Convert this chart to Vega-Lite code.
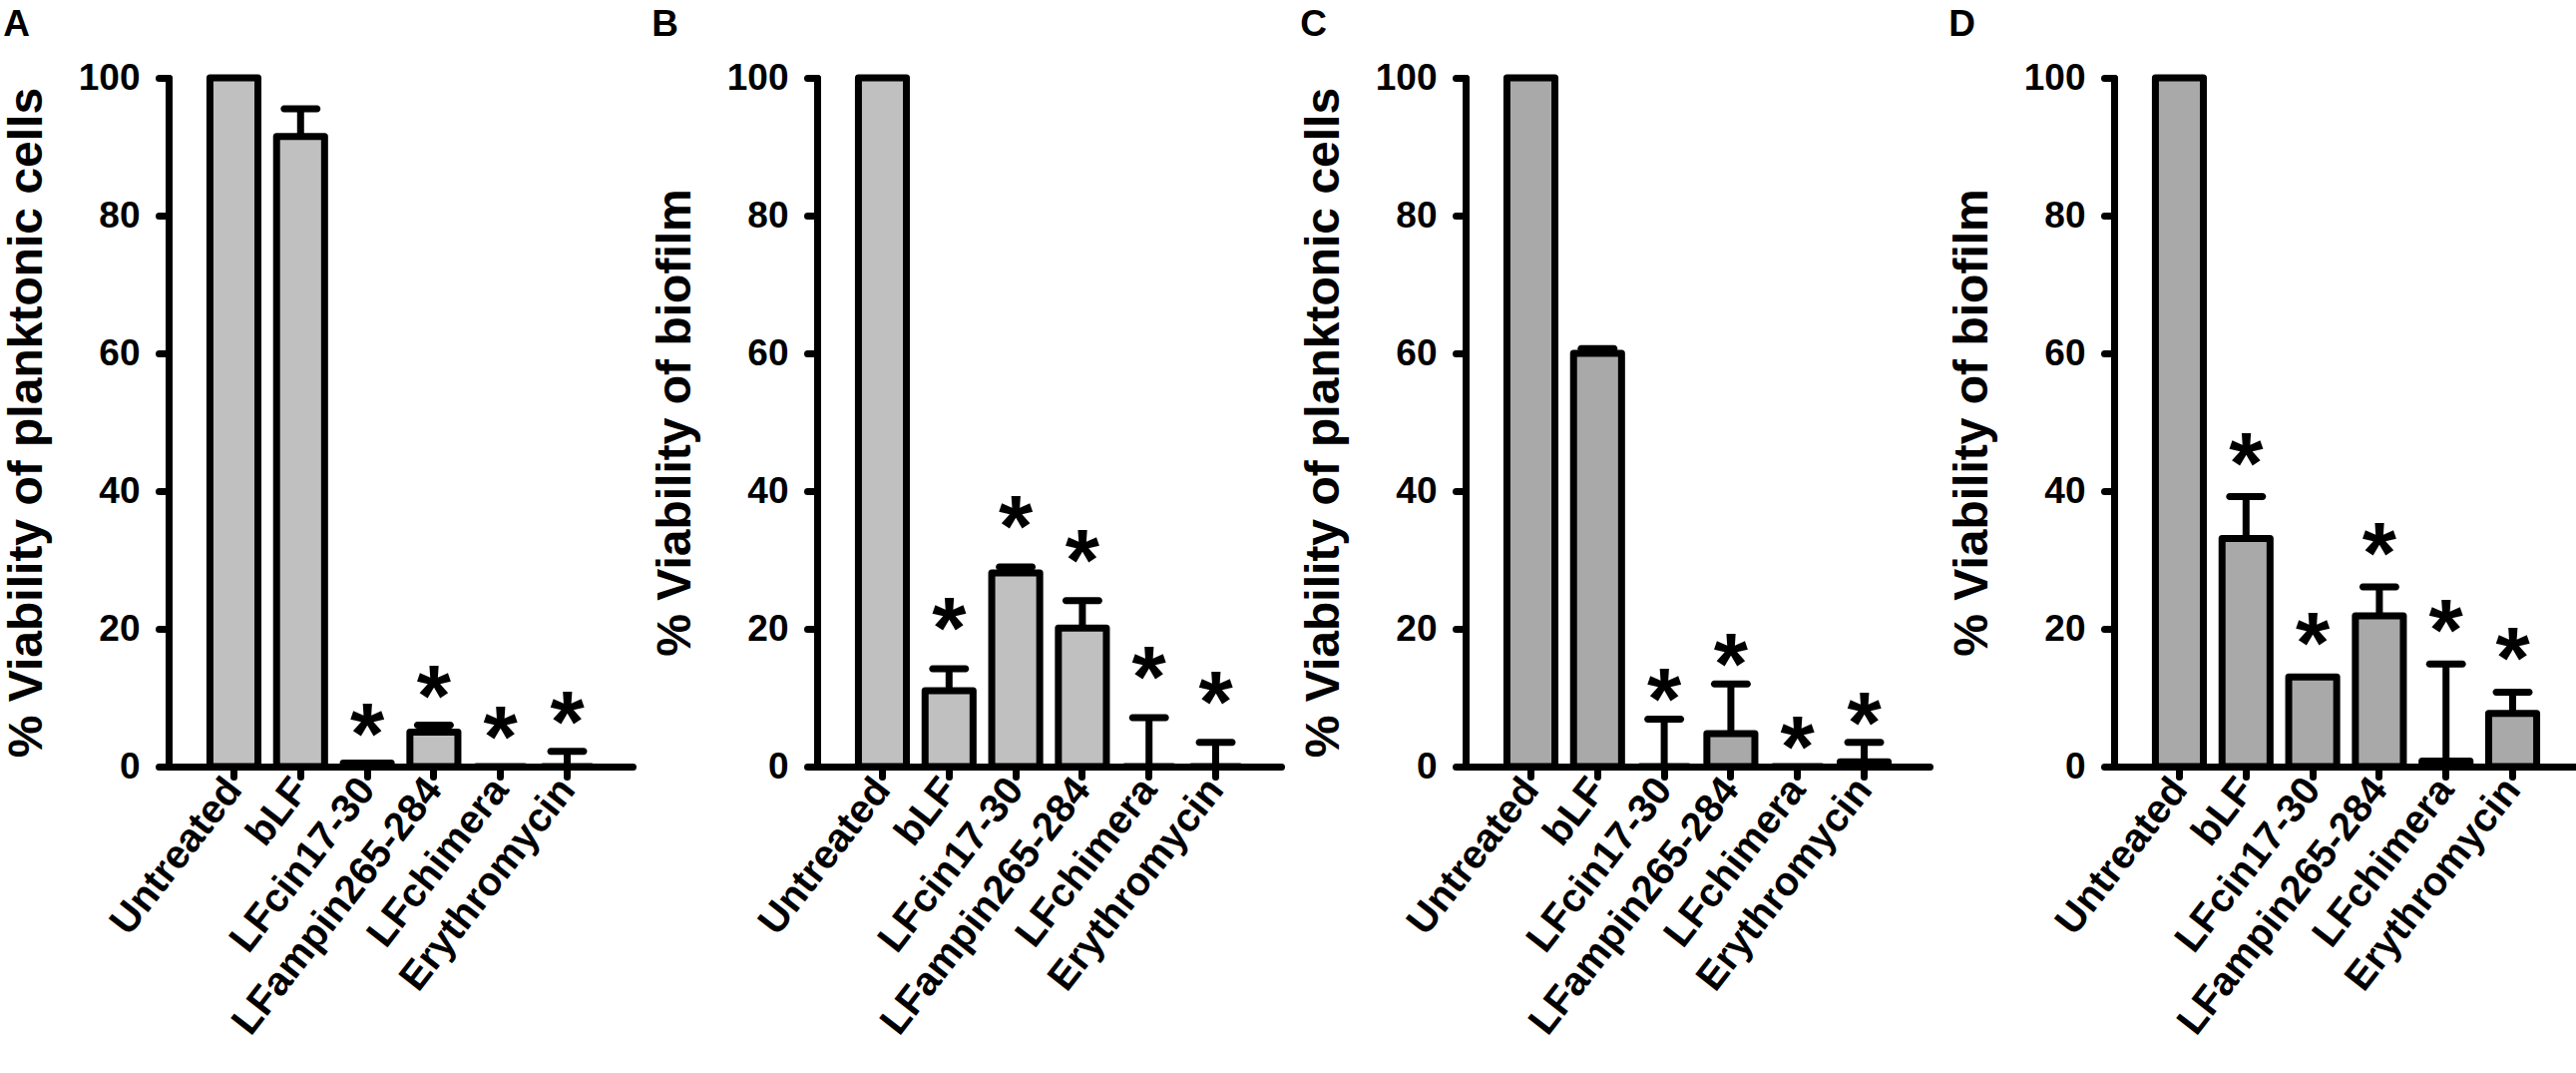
{
  "$schema": "https://vega.github.io/schema/vega-lite/v6.json",
  "padding": {"left": 3, "top": 6, "right": 5, "bottom": 5},
  "background": "white",
  "spacing": 19,
  "data": {
    "values": [
      {"panel": "A", "treatment": "Untreated", "mean": 100, "upper": 100, "sig": false},
      {"panel": "A", "treatment": "bLF", "mean": 91.5, "upper": 95.5, "sig": false},
      {"panel": "A", "treatment": "LFcin17-30", "mean": 0.5, "upper": 0.5, "sig": true},
      {"panel": "A", "treatment": "LFampin265-284", "mean": 5, "upper": 6, "sig": true},
      {"panel": "A", "treatment": "LFchimera", "mean": 0, "upper": 0, "sig": true},
      {"panel": "A", "treatment": "Erythromycin", "mean": 0, "upper": 2.2, "sig": true},
      {"panel": "B", "treatment": "Untreated", "mean": 100, "upper": 100, "sig": false},
      {"panel": "B", "treatment": "bLF", "mean": 11, "upper": 14.2, "sig": true},
      {"panel": "B", "treatment": "LFcin17-30", "mean": 28.1, "upper": 29, "sig": true},
      {"panel": "B", "treatment": "LFampin265-284", "mean": 20.1, "upper": 24.1, "sig": true},
      {"panel": "B", "treatment": "LFchimera", "mean": 0, "upper": 7.1, "sig": true},
      {"panel": "B", "treatment": "Erythromycin", "mean": 0, "upper": 3.5, "sig": true},
      {"panel": "C", "treatment": "Untreated", "mean": 100, "upper": 100, "sig": false},
      {"panel": "C", "treatment": "bLF", "mean": 60, "upper": 60.7, "sig": false},
      {"panel": "C", "treatment": "LFcin17-30", "mean": 0, "upper": 6.9, "sig": true},
      {"panel": "C", "treatment": "LFampin265-284", "mean": 4.8, "upper": 12, "sig": true},
      {"panel": "C", "treatment": "LFchimera", "mean": 0, "upper": 0, "sig": true},
      {"panel": "C", "treatment": "Erythromycin", "mean": 0.7, "upper": 3.5, "sig": true},
      {"panel": "D", "treatment": "Untreated", "mean": 100, "upper": 100, "sig": false},
      {"panel": "D", "treatment": "bLF", "mean": 33.1, "upper": 39.2, "sig": true},
      {"panel": "D", "treatment": "LFcin17-30", "mean": 13, "upper": 13, "sig": true},
      {"panel": "D", "treatment": "LFampin265-284", "mean": 21.9, "upper": 26.1, "sig": true},
      {"panel": "D", "treatment": "LFchimera", "mean": 0.8, "upper": 14.9, "sig": true},
      {"panel": "D", "treatment": "Erythromycin", "mean": 7.7, "upper": 10.8, "sig": true}
    ]
  },
  "config": {
    "view": {"stroke": null},
    "font": "Liberation Sans",
    "title": {"font": "Liberation Sans", "fontSize": 37, "fontWeight": "bold", "color": "black", "anchor": "start", "frame": "bounds", "offset": 15},
    "axis": {
      "grid": false,
      "domainColor": "black",
      "domainWidth": 7,
      "domainCap": "round",
      "tickColor": "black",
      "tickWidth": 7,
      "tickCap": "round",
      "tickSize": 10,
      "labelFont": "Liberation Sans",
      "labelFontWeight": "bold",
      "labelColor": "black",
      "labelLimit": 1000,
      "labelOverlap": false,
      "titleFont": "Liberation Sans",
      "titleFontWeight": "bold",
      "titleColor": "black",
      "titleLimit": 2000
    },
    "axisY": {"labelFontSize": 37, "labelPadding": 19, "titleFontSize": 48, "titlePadding": 27},
    "axisX": {"labelFontSize": 40, "labelAngle": -52, "labelAlign": "right", "labelBaseline": "middle", "labelPadding": 6}
  },
  "hconcat": [
    {
      "title": "A",
      "width": 465,
      "height": 690,
      "transform": [{"filter": "datum.panel == 'A'"}],
      "encoding": {
        "x": {"field": "treatment", "type": "nominal", "title": null,
              "sort": ["Untreated", "bLF", "LFcin17-30", "LFampin265-284", "LFchimera", "Erythromycin"],
              "scale": {"paddingInner": 0.28, "paddingOuter": 0.62}}
      },
      "layer": [
        {"mark": {"type": "bar", "fill": "#c0c0c0", "stroke": "black", "strokeWidth": 7, "strokeJoin": "round"},
         "encoding": {"y": {"field": "mean", "type": "quantitative", "scale": {"domain": [0, 100]}, "title": "% Viability of planktonic cells", "axis": {"values": [0, 20, 40, 60, 80, 100]}}}},
        {"transform": [{"filter": "datum.upper > datum.mean"}],
         "mark": {"type": "rule", "color": "black", "strokeWidth": 7},
         "encoding": {"y": {"field": "mean", "type": "quantitative", "title": "% Viability of planktonic cells", "axis": {"values": [0, 20, 40, 60, 80, 100]}}, "y2": {"field": "upper"}}},
        {"transform": [{"filter": "datum.upper > datum.mean"}],
         "mark": {"type": "tick", "orient": "horizontal", "color": "black", "size": 40, "thickness": 7, "cornerRadius": 3.5, "opacity": 1},
         "encoding": {"y": {"field": "upper", "type": "quantitative", "title": "% Viability of planktonic cells", "axis": {"values": [0, 20, 40, 60, 80, 100]}}}},
        {"transform": [{"filter": "datum.sig"}],
         "mark": {"type": "text", "text": "*", "font": "Liberation Sans", "fontWeight": "bold", "fontSize": 88, "baseline": "alphabetic", "dy": 0, "color": "black"},
         "encoding": {"y": {"field": "upper", "type": "quantitative", "title": "% Viability of planktonic cells", "axis": {"values": [0, 20, 40, 60, 80, 100]}}}}
      ]
    },
    {
      "title": "B",
      "width": 465,
      "height": 690,
      "transform": [{"filter": "datum.panel == 'B'"}],
      "encoding": {
        "x": {"field": "treatment", "type": "nominal", "title": null,
              "sort": ["Untreated", "bLF", "LFcin17-30", "LFampin265-284", "LFchimera", "Erythromycin"],
              "scale": {"paddingInner": 0.28, "paddingOuter": 0.62}}
      },
      "layer": [
        {"mark": {"type": "bar", "fill": "#c0c0c0", "stroke": "black", "strokeWidth": 7, "strokeJoin": "round"},
         "encoding": {"y": {"field": "mean", "type": "quantitative", "scale": {"domain": [0, 100]}, "title": "% Viability of biofilm", "axis": {"values": [0, 20, 40, 60, 80, 100]}}}},
        {"transform": [{"filter": "datum.upper > datum.mean"}],
         "mark": {"type": "rule", "color": "black", "strokeWidth": 7},
         "encoding": {"y": {"field": "mean", "type": "quantitative", "title": "% Viability of biofilm", "axis": {"values": [0, 20, 40, 60, 80, 100]}}, "y2": {"field": "upper"}}},
        {"transform": [{"filter": "datum.upper > datum.mean"}],
         "mark": {"type": "tick", "orient": "horizontal", "color": "black", "size": 40, "thickness": 7, "cornerRadius": 3.5, "opacity": 1},
         "encoding": {"y": {"field": "upper", "type": "quantitative", "title": "% Viability of biofilm", "axis": {"values": [0, 20, 40, 60, 80, 100]}}}},
        {"transform": [{"filter": "datum.sig"}],
         "mark": {"type": "text", "text": "*", "font": "Liberation Sans", "fontWeight": "bold", "fontSize": 88, "baseline": "alphabetic", "dy": -11, "color": "black"},
         "encoding": {"y": {"field": "upper", "type": "quantitative", "title": "% Viability of biofilm", "axis": {"values": [0, 20, 40, 60, 80, 100]}}}}
      ]
    },
    {
      "title": "C",
      "width": 465,
      "height": 690,
      "transform": [{"filter": "datum.panel == 'C'"}],
      "encoding": {
        "x": {"field": "treatment", "type": "nominal", "title": null,
              "sort": ["Untreated", "bLF", "LFcin17-30", "LFampin265-284", "LFchimera", "Erythromycin"],
              "scale": {"paddingInner": 0.28, "paddingOuter": 0.62}}
      },
      "layer": [
        {"mark": {"type": "bar", "fill": "#a9a9a9", "stroke": "black", "strokeWidth": 7, "strokeJoin": "round"},
         "encoding": {"y": {"field": "mean", "type": "quantitative", "scale": {"domain": [0, 100]}, "title": "% Viability of planktonic cells", "axis": {"values": [0, 20, 40, 60, 80, 100]}}}},
        {"transform": [{"filter": "datum.upper > datum.mean"}],
         "mark": {"type": "rule", "color": "black", "strokeWidth": 7},
         "encoding": {"y": {"field": "mean", "type": "quantitative", "title": "% Viability of planktonic cells", "axis": {"values": [0, 20, 40, 60, 80, 100]}}, "y2": {"field": "upper"}}},
        {"transform": [{"filter": "datum.upper > datum.mean"}],
         "mark": {"type": "tick", "orient": "horizontal", "color": "black", "size": 40, "thickness": 7, "cornerRadius": 3.5, "opacity": 1},
         "encoding": {"y": {"field": "upper", "type": "quantitative", "title": "% Viability of planktonic cells", "axis": {"values": [0, 20, 40, 60, 80, 100]}}}},
        {"transform": [{"filter": "datum.sig"}],
         "mark": {"type": "text", "text": "*", "font": "Liberation Sans", "fontWeight": "bold", "fontSize": 88, "baseline": "alphabetic", "dy": 10, "color": "black"},
         "encoding": {"y": {"field": "upper", "type": "quantitative", "title": "% Viability of planktonic cells", "axis": {"values": [0, 20, 40, 60, 80, 100]}}}}
      ]
    },
    {
      "title": "D",
      "width": 465,
      "height": 690,
      "transform": [{"filter": "datum.panel == 'D'"}],
      "encoding": {
        "x": {"field": "treatment", "type": "nominal", "title": null,
              "sort": ["Untreated", "bLF", "LFcin17-30", "LFampin265-284", "LFchimera", "Erythromycin"],
              "scale": {"paddingInner": 0.28, "paddingOuter": 0.62}}
      },
      "layer": [
        {"mark": {"type": "bar", "fill": "#a9a9a9", "stroke": "black", "strokeWidth": 7, "strokeJoin": "round"},
         "encoding": {"y": {"field": "mean", "type": "quantitative", "scale": {"domain": [0, 100]}, "title": "% Viability of biofilm", "axis": {"values": [0, 20, 40, 60, 80, 100]}}}},
        {"transform": [{"filter": "datum.upper > datum.mean"}],
         "mark": {"type": "rule", "color": "black", "strokeWidth": 7},
         "encoding": {"y": {"field": "mean", "type": "quantitative", "title": "% Viability of biofilm", "axis": {"values": [0, 20, 40, 60, 80, 100]}}, "y2": {"field": "upper"}}},
        {"transform": [{"filter": "datum.upper > datum.mean"}],
         "mark": {"type": "tick", "orient": "horizontal", "color": "black", "size": 40, "thickness": 7, "cornerRadius": 3.5, "opacity": 1},
         "encoding": {"y": {"field": "upper", "type": "quantitative", "title": "% Viability of biofilm", "axis": {"values": [0, 20, 40, 60, 80, 100]}}}},
        {"transform": [{"filter": "datum.sig"}],
         "mark": {"type": "text", "text": "*", "font": "Liberation Sans", "fontWeight": "bold", "fontSize": 88, "baseline": "alphabetic", "dy": -4, "color": "black"},
         "encoding": {"y": {"field": "upper", "type": "quantitative", "title": "% Viability of biofilm", "axis": {"values": [0, 20, 40, 60, 80, 100]}}}}
      ]
    }
  ]
}
